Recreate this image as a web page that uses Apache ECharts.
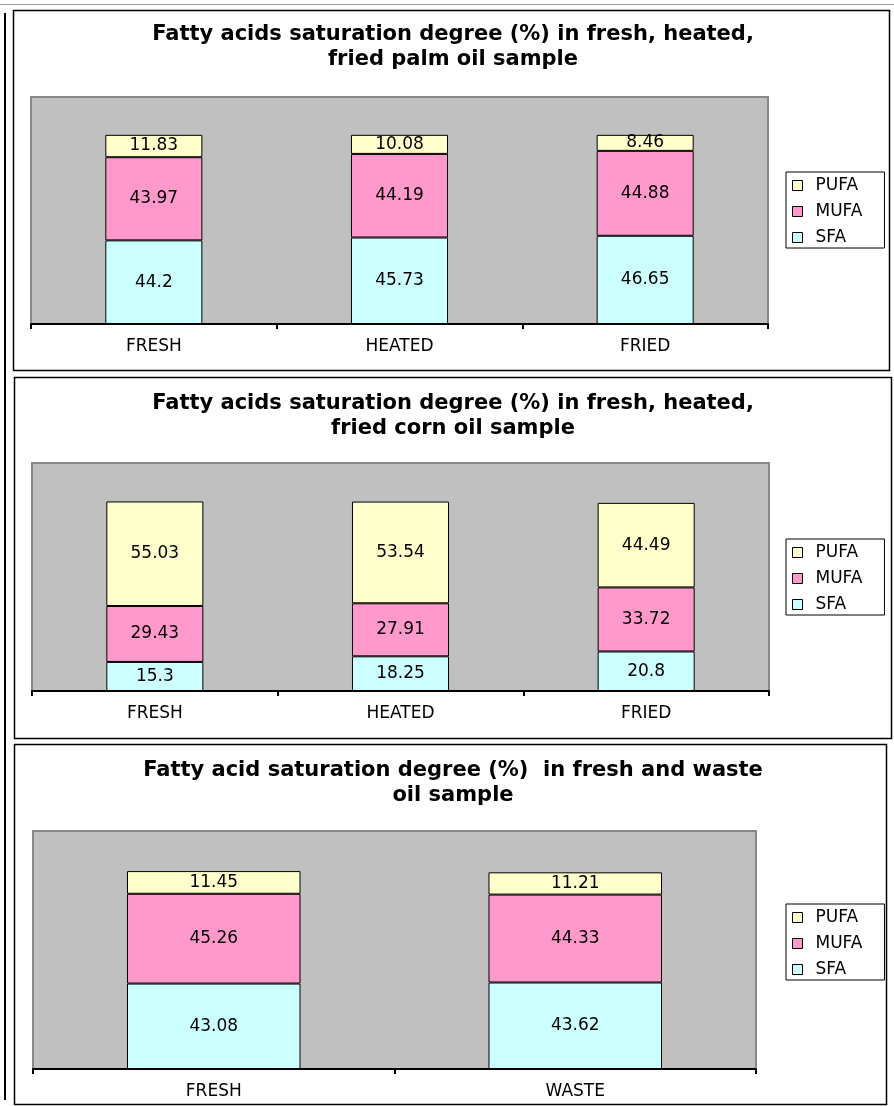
<!DOCTYPE html>
<html>
<head>
<meta charset="utf-8">
<script src="https://cdn.jsdelivr.net/npm/echarts@6/dist/echarts.min.js"></script>
<style>
  html, body { margin: 0; padding: 0; background: #fff; }
  #chart { width: 894px; height: 1106px; }
</style>
</head>
<body>
<div id="chart"></div>
<script>
// Fatty acid composition (%) of oil samples
const palmCategories = ['FRESH', 'HEATED', 'FRIED'];
const palmSFA  = [44.2, 45.73, 46.65];
const palmMUFA = [43.97, 44.19, 44.88];
const palmPUFA = [11.83, 10.08, 8.46];

const cornCategories = ['FRESH', 'HEATED', 'FRIED'];
const cornSFA  = [15.3, 18.25, 20.8];
const cornMUFA = [29.43, 27.91, 33.72];
const cornPUFA = [55.03, 53.54, 44.49];

const wasteCategories = ['FRESH', 'WASTE'];
const wasteSFA  = [43.08, 43.62];
const wasteMUFA = [45.26, 44.33];
const wastePUFA = [11.45, 11.21];

const legendNames = ['PUFA', 'MUFA', 'SFA'];
const titles = [
  'Fatty acids saturation degree (%) in fresh, heated,\nfried palm oil sample',
  'Fatty acids saturation degree (%) in fresh, heated,\nfried corn oil sample',
  'Fatty acid saturation degree (%)  in fresh and waste\noil sample'
];

const FONT = 'DejaVu Sans';
const colors = { SFA: '#CCFFFF', MUFA: '#FF99CC', PUFA: '#FFFFCC' };

// panel layout: frame, plot area, legend box, title position
const panels = [
  { frame: [13, 10, 876, 360], grid: [31, 97, 737, 227], legendTop: 172, titleTop: 17, barWidth: '39.5%',
    cats: palmCategories, sfa: palmSFA, mufa: palmMUFA, pufa: palmPUFA },
  { frame: [14, 377, 877, 361], grid: [32, 463, 737, 228], legendTop: 539, titleTop: 386, barWidth: '39.5%',
    cats: cornCategories, sfa: cornSFA, mufa: cornMUFA, pufa: cornPUFA },
  { frame: [14, 744, 872, 360], grid: [33, 831, 723, 238], legendTop: 904, titleTop: 753, barWidth: '48%',
    cats: wasteCategories, sfa: wasteSFA, mufa: wasteMUFA, pufa: wastePUFA }
];

const option = {
  animation: false,
  backgroundColor: '#ffffff',
  title: [], grid: [], xAxis: [], yAxis: [], legend: [], series: [],
  graphic: [
    { type: 'line', shape: { x1: 0, y1: 4.5, x2: 894, y2: 4.5 }, style: { stroke: '#a0a0a0', lineWidth: 1 } },
    { type: 'line', shape: { x1: 5, y1: 13, x2: 5, y2: 1100 }, style: { stroke: '#000', lineWidth: 2 } }
  ]
};

panels.forEach((p, i) => {
  option.graphic.push({
    type: 'rect', z: -1,
    shape: { x: p.frame[0] + 0.5, y: p.frame[1] + 0.5, width: p.frame[2], height: p.frame[3] },
    style: { fill: '#fff', stroke: '#000', lineWidth: 1.5 }
  });
  option.title.push({
    text: titles[i],
    left: 448, top: p.titleTop, textAlign: 'center',
    textStyle: { fontFamily: FONT, fontWeight: 'bold', fontSize: 21, color: '#000', lineHeight: 25 }
  });
  option.grid.push({
    left: p.grid[0], top: p.grid[1], width: p.grid[2], height: p.grid[3],
    show: true, backgroundColor: '#C0C0C0', borderColor: '#888888', borderWidth: 2
  });
  option.xAxis.push({
    type: 'category', gridIndex: i, data: p.cats,
    axisLine: { lineStyle: { color: '#000', width: 2 } },
    axisTick: { show: true, length: 5, lineStyle: { color: '#000', width: 2 } },
    axisLabel: { color: '#000', fontFamily: FONT, fontSize: 17, margin: 14 },
    splitLine: { show: false }
  });
  option.yAxis.push({ type: 'value', gridIndex: i, min: 0, max: 120, show: false });
  option.legend.push({
    orient: 'vertical', left: 786, top: p.legendTop,
    data: legendNames,
    icon: 'rect', itemWidth: 10, itemHeight: 10, itemGap: 9,
    padding: [5, 22, 2, 6],
    borderColor: '#000', borderWidth: 1, backgroundColor: '#fff',
    itemStyle: { borderColor: '#000', borderWidth: 1 },
    textStyle: { fontFamily: FONT, fontSize: 17, color: '#000', lineHeight: 16, padding: [0, 0, 0, 8] }
  });
  [['SFA', p.sfa], ['MUFA', p.mufa], ['PUFA', p.pufa]].forEach(([name, values]) => {
    option.series.push({
      type: 'bar', name, stack: 'total' + i,
      xAxisIndex: i, yAxisIndex: i,
      barWidth: p.barWidth, data: values,
      itemStyle: { color: colors[name], borderColor: '#000', borderWidth: 1 },
      label: { show: true, position: 'inside', color: '#000', fontFamily: FONT, fontSize: 17 },
      emphasis: { disabled: true }
    });
  });
});

const chart = echarts.init(document.getElementById('chart'), null, { renderer: 'canvas' });
chart.setOption(option);
</script>
</body>
</html>
